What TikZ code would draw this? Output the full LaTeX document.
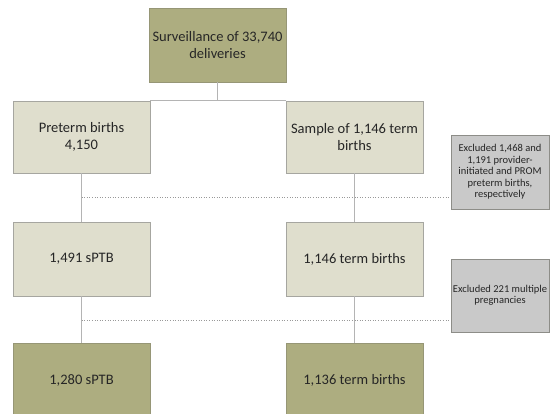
\documentclass[tikz,border=0pt]{standalone}
\usepackage{fontspec}
\setmainfont{Carlito}
\definecolor{olive}{HTML}{ADAD80}
\definecolor{lightbox}{HTML}{DFDECD}
\definecolor{greybox}{HTML}{C9C9C9}
\definecolor{edge}{HTML}{A6A6A0}
\definecolor{conn}{HTML}{B4B4B4}
\begin{document}
\begin{tikzpicture}[x=1pt,y=-1pt,
  box/.style={draw=edge, line width=0.7pt, inner sep=2pt, align=center,
    font=\fontsize{14.5}{17}\selectfont, text=black!85},
  dark/.style={box, fill=olive, draw=olive!80!black!90},
  light/.style={box, fill=lightbox},
  excl/.style={draw=edge!85!black, line width=0.7pt, fill=greybox, align=center,
    font=\fontsize{10.5}{11.5}\selectfont, inner sep=0pt, text=black!85},
  conline/.style={draw=conn, line width=0.8pt},
  dotline/.style={draw=gray!80, line width=0.6pt, dotted}]
\useasboundingbox (0,0) rectangle (550,414);
\clip (0,0) rectangle (550,414);
% nodes
\node[dark, minimum width=137pt, minimum height=74pt] (top) at (217.5,45) {Surveillance of 33,740\\deliveries};
\node[light, minimum width=137pt, minimum height=72pt] (pre) at (81.5,137) {Preterm births\\4,150};
\node[light, minimum width=137pt, minimum height=72pt] (samp) at (354.5,137) {Sample of 1,146 term\\births};
\node[light, minimum width=137pt, minimum height=74pt] (sptb) at (81.5,259) {1,491 sPTB};
\node[light, minimum width=137pt, minimum height=74pt] (term) at (354.5,259) {1,146 term births};
\node[dark, minimum width=137pt, minimum height=74pt] (sptbf) at (81.5,380) {1,280 sPTB};
\node[dark, minimum width=137pt, minimum height=74pt] (termf) at (354.5,380) {1,136 term births};
\node[excl, minimum width=98pt, minimum height=74pt] (exa) at (500,172) {Excluded 1,468 and\\1,191 provider-\\initiated and PROM\\preterm births,\\respectively};
\node[excl, minimum width=98pt, minimum height=73pt] (exb) at (500,295.5) {Excluded 221 multiple\\pregnancies};
% connectors
\coordinate (tj) at (top.south |- pre.north);
\draw[conline] (top.south) -- (tj);
\draw[conline] (pre.north east) -- (samp.north west);
\draw[conline] (pre.south) -- (sptb.north);
\draw[conline] (samp.south) -- (term.north);
\draw[conline] (sptb.south) -- (sptbf.north);
\draw[conline] (term.south) -- (termf.north);
\coordinate (da) at (81.5,197.5);
\coordinate (db) at (81.5,320);
\draw[dotline] (da) -- (da -| exa.west);
\draw[dotline] (db) -- (db -| exb.west);
\end{tikzpicture}
\end{document}
